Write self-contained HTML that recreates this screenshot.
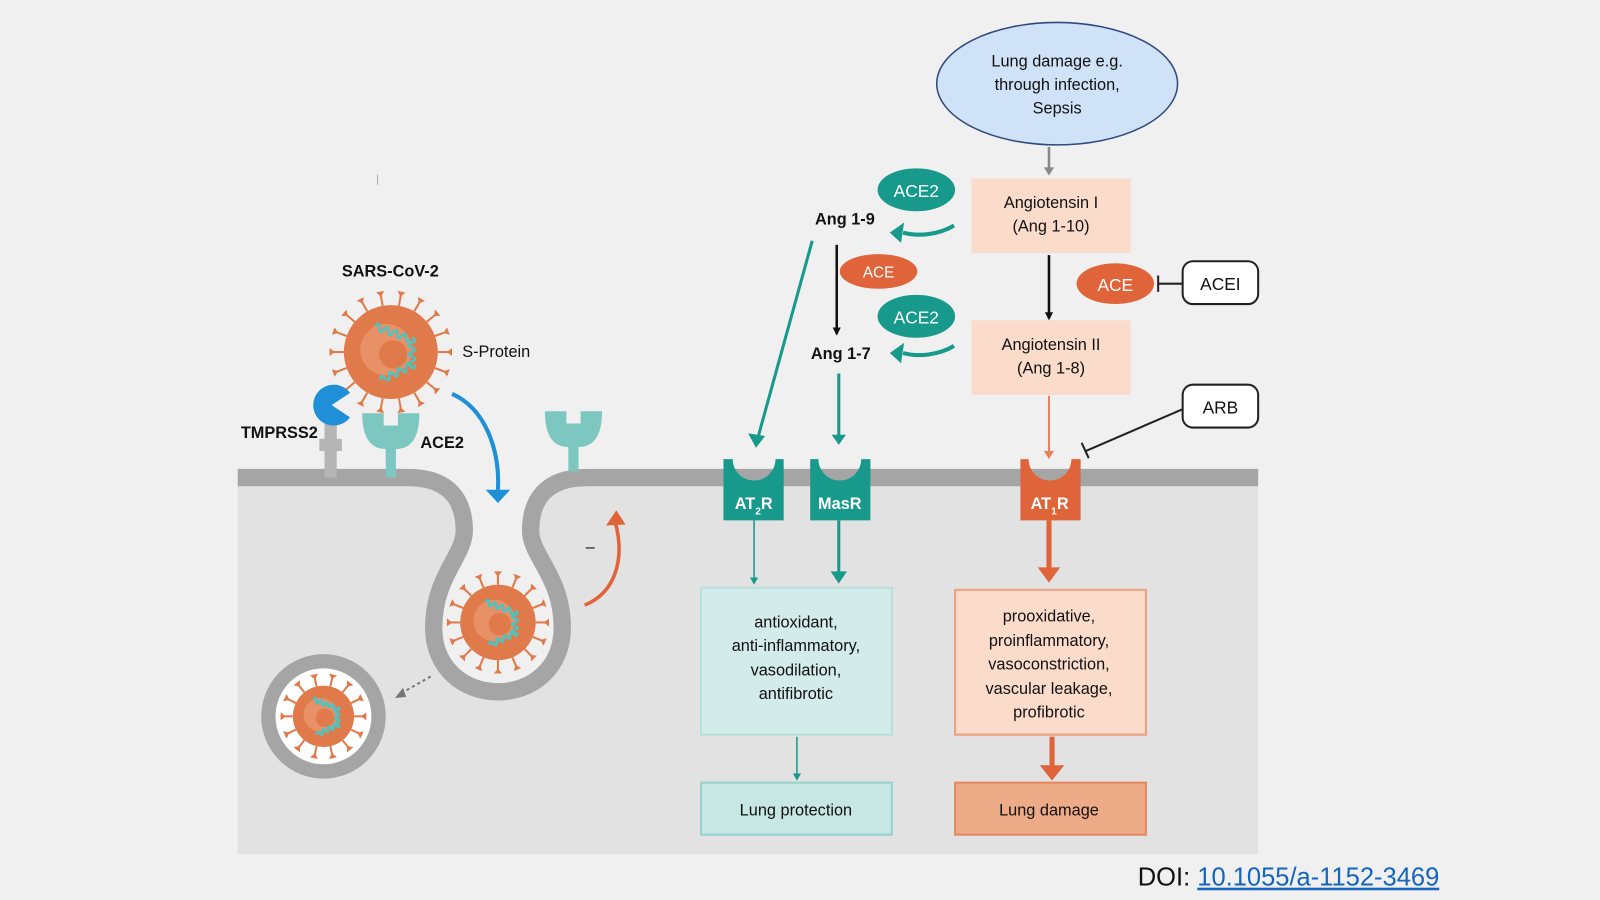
<!DOCTYPE html>
<html><head><meta charset="utf-8"><style>
html,body{margin:0;padding:0;background:#f0f0f0;}
svg{display:block;}
text{font-family:"Liberation Sans",sans-serif;fill:#111;}
</style></head><body>
<svg id="s" width="1600" height="900" viewBox="0 0 1568 882" xmlns="http://www.w3.org/2000/svg">
<defs>
<marker id="ab" markerWidth="8" markerHeight="8" refX="6" refY="4" orient="auto" markerUnits="userSpaceOnUse" viewBox="0 0 8 8"><path d="M0,0 L8,4 L0,8z" fill="#111"/></marker>
</defs>
<rect width="1568" height="882" fill="#f0f0f0"/>
<rect x="233" y="468" width="1000" height="369" fill="#e2e2e2"/>
<path d="M400,468 C440,468 455,490 455,520 C455,545 425,565 425,615 C425,655 455,678 488,678 C521,678 551,655 551,615 C551,565 520,545 520,520 C520,490 535,468 575,468 Z" fill="#f0f0f0"/>
<rect x="360" y="440" width="240" height="29" fill="#f0f0f0"/>
<path d="M233,468 L400,468 C440,468 455,490 455,520 C455,545 425,565 425,615 C425,655 455,678 488,678 C521,678 551,655 551,615 C551,565 520,545 520,520 C520,490 535,468 575,468 L1233,468" fill="none" stroke="#a5a5a5" stroke-width="17"/>
<circle cx="317" cy="702" r="54" fill="#fff" stroke="#a5a5a5" stroke-width="14"/>
<g id="viruses"></g>
<rect x="318" y="415" width="12" height="53" fill="#b5b5b5"/>
<rect x="313" y="430" width="22" height="12" fill="#b5b5b5"/>
<path d="M325,397 L343,385 A20,20 0 1 0 343,409 Z" fill="#1f8fd8"/>
<path d="M355,405 L411,405 Q411,440 388,440 L388,468 L378,468 L378,440 Q355,440 355,405Z M376,405 L376,417 L390,417 L390,405Z" fill="#7cc8c0" fill-rule="evenodd"/>
<path d="M534,403 L590,403 Q590,438 567,438 L567,462 L557,462 L557,438 Q534,438 534,403Z M555,403 L555,415 L569,415 L569,403Z" fill="#7cc8c0" fill-rule="evenodd"/>
<text x="335" y="271" font-size="16" font-weight="bold">SARS-CoV-2</text>
<text x="453" y="350" font-size="16" fill="#333">S-Protein</text>
<text x="236" y="429" font-size="16" font-weight="bold" fill="#333">TMPRSS2</text>
<text x="412" y="439" font-size="16" font-weight="bold" fill="#333">ACE2</text>
<path d="M443,386 C475,400 490,440 488,480" fill="none" stroke="#1f8fd8" stroke-width="4"/>
<path d="M476,480 L500,480 L488,493Z" fill="#1f8fd8"/>
<path d="M573,593 C605,580 612,545 603,512" fill="none" stroke="#e0643a" stroke-width="3.5"/>
<path d="M594,515 L604,500 L613,514Z" fill="#e0643a"/>
<text x="574" y="541" font-size="16" fill="#e0643a">–</text>
<path d="M422,663 L392,680" stroke="#777" stroke-width="2" stroke-dasharray="3,3"/>
<path d="M387,684 L395,674 L398,683Z" fill="#777"/>
<line x1="370" y1="171" x2="370" y2="181" stroke="#aaa" stroke-width="1"/>
<ellipse cx="1036" cy="82" rx="118" ry="60" fill="#cfe2f7" stroke="#2f4a80" stroke-width="1.5"/>
<text x="1036" y="65" font-size="16" text-anchor="middle">Lung damage e.g.</text>
<text x="1036" y="88" font-size="16" text-anchor="middle">through infection,</text>
<text x="1036" y="111" font-size="16" text-anchor="middle">Sepsis</text>
<line x1="1028" y1="144" x2="1028" y2="166" stroke="#888" stroke-width="2.5"/>
<path d="M1023,164 L1033,164 L1028,172Z" fill="#888"/>
<rect x="952" y="175" width="156" height="73" fill="#fbdccb"/>
<text x="1030" y="204" font-size="16" text-anchor="middle">Angiotensin I</text>
<text x="1030" y="227" font-size="16" text-anchor="middle">(Ang 1-10)</text>
<rect x="952" y="314" width="156" height="73" fill="#fbdccb"/>
<text x="1030" y="343" font-size="16" text-anchor="middle">Angiotensin II</text>
<text x="1030" y="366" font-size="16" text-anchor="middle">(Ang 1-8)</text>
<line x1="1028" y1="250" x2="1028" y2="312" stroke="#111" stroke-width="2.5" marker-end="url(#ab)"/>
<ellipse cx="1093" cy="278" rx="38" ry="20" fill="#e0643a"/>
<text x="1093" y="285" font-size="17" text-anchor="middle" style="fill:#fff">ACE</text>
<line x1="1134" y1="278" x2="1159" y2="278" stroke="#222" stroke-width="2"/>
<line x1="1135" y1="270" x2="1135" y2="286" stroke="#222" stroke-width="2"/>
<rect x="1159" y="256" width="74" height="42" rx="10" fill="#fff" stroke="#222" stroke-width="2"/>
<text x="1196" y="284" font-size="17" text-anchor="middle">ACEI</text>
<rect x="1159" y="377" width="74" height="42" rx="10" fill="#fff" stroke="#222" stroke-width="2"/>
<text x="1196" y="405" font-size="17" text-anchor="middle">ARB</text>
<line x1="1159" y1="401" x2="1064" y2="442" stroke="#222" stroke-width="2"/>
<line x1="1060" y1="434" x2="1067" y2="449" stroke="#222" stroke-width="2"/>
<ellipse cx="898" cy="186" rx="38" ry="21" fill="#17998c"/>
<text x="898" y="193" font-size="17" text-anchor="middle" style="fill:#fff">ACE2</text>
<ellipse cx="898" cy="310" rx="38" ry="21" fill="#17998c"/>
<text x="898" y="317" font-size="17" text-anchor="middle" style="fill:#fff">ACE2</text>
<path d="M935,221 C920,230 900,232 885,228" fill="none" stroke="#17998c" stroke-width="4"/>
<path d="M886,218 L872,228 L883,238Z" fill="#17998c"/>
<path d="M935,339 C920,348 900,350 885,346" fill="none" stroke="#17998c" stroke-width="4"/>
<path d="M886,336 L872,346 L883,356Z" fill="#17998c"/>
<text x="828" y="220" font-size="16" font-weight="bold" text-anchor="middle" fill="#222">Ang 1-9</text>
<text x="824" y="352" font-size="16" font-weight="bold" text-anchor="middle" fill="#222">Ang 1-7</text>
<line x1="820" y1="240" x2="820" y2="327" stroke="#111" stroke-width="2.5" marker-end="url(#ab)"/>
<ellipse cx="861" cy="266" rx="38" ry="17" fill="#e0643a"/>
<text x="861" y="272" font-size="15" text-anchor="middle" style="fill:#fff">ACE</text>
<line x1="796" y1="236" x2="743" y2="428" stroke="#17998c" stroke-width="3"/>
<path d="M735,426 L741,437 L748,428Z" fill="#17998c" stroke="#17998c" stroke-width="2"/>
<line x1="822" y1="366" x2="822" y2="428" stroke="#17998c" stroke-width="3"/>
<path d="M815,426 L822,436 L829,426Z" fill="#17998c"/>
<line x1="1028" y1="388" x2="1028" y2="444" stroke="#e8825a" stroke-width="2"/>
<path d="M1023,442 L1028,450 L1033,442Z" fill="#e8825a"/>
<path d="M709,450 L718,450 A21,21 0 0 0 760,450 L768,450 L768,510 L709,510Z" fill="#17998c"/>
<text x="720" y="499" font-size="16" font-weight="bold" style="fill:#fff">AT<tspan font-size="10" dy="5" style="fill:#fff">2</tspan><tspan dy="-5" style="fill:#fff">R</tspan></text>
<path d="M794,450 L802,450 A21,21 0 0 0 844,450 L853,450 L853,510 L794,510Z" fill="#17998c"/>
<text x="823" y="499" font-size="16" font-weight="bold" text-anchor="middle" style="fill:#fff">MasR</text>
<path d="M1000,450 L1008,450 A21,21 0 0 0 1050,450 L1059,450 L1059,510 L1000,510Z" fill="#e0643a"/>
<text x="1010" y="499" font-size="16" font-weight="bold" style="fill:#fff">AT<tspan font-size="10" dy="5" style="fill:#fff">1</tspan><tspan dy="-5" style="fill:#fff">R</tspan></text>
<line x1="739" y1="510" x2="739" y2="568" stroke="#17998c" stroke-width="1.5"/>
<path d="M735,566 L739,573 L743,566Z" fill="#17998c"/>
<line x1="822" y1="510" x2="822" y2="562" stroke="#17998c" stroke-width="3"/>
<path d="M814,560 L822,572 L830,560Z" fill="#17998c"/>
<line x1="1028" y1="510" x2="1028" y2="558" stroke="#e0643a" stroke-width="5"/>
<path d="M1017,556 L1028,571 L1039,556Z" fill="#e0643a"/>
<rect x="687" y="576" width="187" height="144" fill="#d3ece9" stroke="#b8e0db" stroke-width="2"/>
<text x="780" y="615" font-size="16" text-anchor="middle">antioxidant,</text>
<text x="780" y="638" font-size="16" text-anchor="middle">anti-inflammatory,</text>
<text x="780" y="662" font-size="16" text-anchor="middle">vasodilation,</text>
<text x="780" y="685" font-size="16" text-anchor="middle">antifibrotic</text>
<rect x="936" y="578" width="187" height="142" fill="#fbdccb" stroke="#eca080" stroke-width="2"/>
<text x="1028" y="609" font-size="16" text-anchor="middle">prooxidative,</text>
<text x="1028" y="633" font-size="16" text-anchor="middle">proinflammatory,</text>
<text x="1028" y="656" font-size="16" text-anchor="middle">vasoconstriction,</text>
<text x="1028" y="680" font-size="16" text-anchor="middle">vascular leakage,</text>
<text x="1028" y="703" font-size="16" text-anchor="middle">profibrotic</text>
<line x1="781" y1="722" x2="781" y2="760" stroke="#17998c" stroke-width="1.5"/>
<path d="M777,758 L781,765 L785,758Z" fill="#17998c"/>
<line x1="1031" y1="722" x2="1031" y2="752" stroke="#e0643a" stroke-width="5"/>
<path d="M1019,750 L1031,765 L1043,750Z" fill="#e0643a"/>
<rect x="687" y="767" width="187" height="51" fill="#c6e7e3" stroke="#96d2ca" stroke-width="2"/>
<text x="780" y="799" font-size="16" text-anchor="middle">Lung protection</text>
<rect x="936" y="767" width="187" height="51" fill="#eeab87" stroke="#e4875e" stroke-width="2"/>
<text x="1028" y="799" font-size="16" text-anchor="middle">Lung damage</text>
<text x="1115" y="868" font-size="25" fill="#222">DOI: <tspan fill="#1565c0" style="fill:#1565c0" text-decoration="underline">10.1055/a-1152-3469</tspan></text>
</svg>
<script>
(function(){
var g=document.getElementById('viruses'),h='';
function v(cx,cy,r,sl,n){
 h+='<circle cx="'+cx+'" cy="'+cy+'" r="'+r+'" fill="#e07a4a"/>';
 for(var i=0;i<n;i++){var a=i*2*Math.PI/n,c=Math.cos(a),s=Math.sin(a);
  var x1=cx+c*r,y1=cy+s*r,x2=cx+c*(r+sl),y2=cy+s*(r+sl);
  h+='<line x1="'+x1+'" y1="'+y1+'" x2="'+x2+'" y2="'+y2+'" stroke="#e07a4a" stroke-width="2"/>';
  var px=-s*4,py=c*4,xi=cx+c*(r+sl-5),yi=cy+s*(r+sl-5);
  h+='<path d="M'+(x2+px)+','+(y2+py)+' L'+(x2-px)+','+(y2-py)+' L'+xi+','+yi+'Z" fill="#e07a4a"/>';}
 h+='<circle cx="'+(cx-r*0.1)+'" cy="'+(cy-r*0.05)+'" r="'+(r*0.55)+'" fill="#eb9a72" opacity="0.7"/>';
 h+='<circle cx="'+(cx+r*0.05)+'" cy="'+(cy+r*0.05)+'" r="'+(r*0.3)+'" fill="#e07a4a"/>';
 var st=r*0.1,d='M'+(cx-r*0.5)+','+(cy-r*0.4);
 for(var k=0;k<4;k++){d+=' q'+(st/2)+','+(-r*0.14)+' '+st+',0 t'+st+',0';}
 h+='<path d="'+d+'" fill="none" stroke="#4fc3c0" stroke-width="2.5" transform="rotate(20 '+cx+' '+cy+')"/>';
 var d2='M'+(cx-r*0.45)+','+(cy+r*0.45);
 for(var k=0;k<4;k++){d2+=' q'+(st/2)+','+(-r*0.14)+' '+st+',0 t'+st+',0';}
 h+='<path d="'+d2+'" fill="none" stroke="#4fc3c0" stroke-width="2.5" transform="rotate(-25 '+cx+' '+cy+')"/>';
 var d3='M'+(cx+r*0.45)+','+(cy-r*0.3);
 for(var k=0;k<3;k++){d3+=' q'+(r*0.14)+','+(st/2)+' 0,'+st+' t0,'+st;}
 h+='<path d="'+d3+'" fill="none" stroke="#4fc3c0" stroke-width="2.5"/>';
}
v(383,345,46,14,18);v(488,610,37,13,16);v(317,702,30,12,14);
g.innerHTML=h;
})();
</script>
</body></html>
